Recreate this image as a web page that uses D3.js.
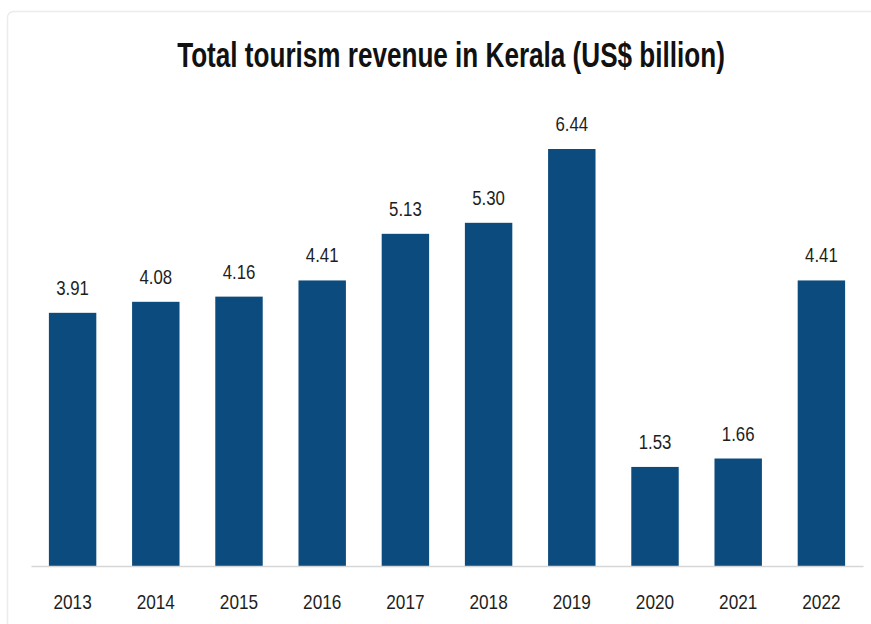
<!DOCTYPE html>
<html>
<head>
<meta charset="utf-8">
<script src="https://cdn.jsdelivr.net/npm/d3@7"></script>
<style>
  html, body { margin: 0; padding: 0; background: #ffffff; }
  svg { display: block; }
</style>
</head>
<body>
<svg id="chart" width="871" height="624"></svg>
<script>
// Kerala tourism revenue by year, US$ billion
const years = ["2013", "2014", "2015", "2016", "2017", "2018", "2019", "2020", "2021", "2022"];
const revenue = [3.91, 4.08, 4.16, 4.41, 5.13, 5.30, 6.44, 1.53, 1.66, 4.41];
const valueLabels = ["3.91", "4.08", "4.16", "4.41", "5.13", "5.30", "6.44", "1.53", "1.66", "4.41"];
const chartTitle = "Total tourism revenue in Kerala (US$ billion)";

const W = 871, H = 624;
const FONT = "'Liberation Sans', Arial, sans-serif";
const NARROW = 0.82; // horizontal squeeze for a narrow sans look
const barColor = "#0b4b7d";
const textColor = "#1e1e1e";

const svg = d3.select("#chart");

// light card frame
svg.append("rect")
  .attr("x", 7.5).attr("y", 11.5)
  .attr("width", W + 20).attr("height", H + 20)
  .attr("rx", 6)
  .attr("fill", "#ffffff")
  .attr("stroke", "#ececec")
  .attr("stroke-width", 1.5);

const plot = { left: 31, right: 863, bottom: 566, top: 149 };

const x = d3.scaleBand()
  .domain(years)
  .range([plot.left, plot.right])
  .paddingInner(0.43)
  .paddingOuter(0.215);

const y = d3.scaleLinear()
  .domain([0, 6.44])
  .range([plot.bottom, plot.top]);

const data = years.map((yr, i) => ({ year: yr, value: revenue[i], label: valueLabels[i] }));

// title, squeezed horizontally to a fixed width
const title = svg.append("text")
  .attr("text-anchor", "middle")
  .attr("font-family", FONT)
  .attr("font-weight", "bold")
  .attr("font-size", 35)
  .attr("fill", "#111")
  .text(chartTitle);
const titleWidth = 548;
const titleScale = titleWidth / title.node().getComputedTextLength();
title.attr("transform", `translate(451,67) scale(${titleScale},1)`);

// bars
svg.append("g")
  .selectAll("rect")
  .data(data)
  .join("rect")
  .attr("x", d => x(d.year))
  .attr("y", d => y(d.value))
  .attr("width", x.bandwidth())
  .attr("height", d => y(0) - y(d.value))
  .attr("fill", barColor);

// value labels above bars
svg.append("g")
  .selectAll("text")
  .data(data)
  .join("text")
  .attr("transform", d =>
    `translate(${x(d.year) + x.bandwidth() / 2},${y(d.value) - 18}) scale(${NARROW},1)`)
  .attr("text-anchor", "middle")
  .attr("font-family", FONT)
  .attr("font-size", 20.5)
  .attr("fill", textColor)
  .text(d => d.label);

// category axis
const xAxis = svg.append("g")
  .attr("transform", `translate(0,${plot.bottom})`)
  .call(d3.axisBottom(x).tickSize(0).tickPadding(0).tickSizeOuter(0));

xAxis.select(".domain")
  .attr("stroke", "#d6d6d6")
  .attr("stroke-width", 1.5);

xAxis.selectAll(".tick text")
  .attr("dy", null)
  .attr("y", 0)
  .attr("transform", `translate(0,43) scale(${NARROW},1)`)
  .attr("font-family", FONT)
  .attr("font-size", 21)
  .attr("fill", textColor);
</script>
</body>
</html>
